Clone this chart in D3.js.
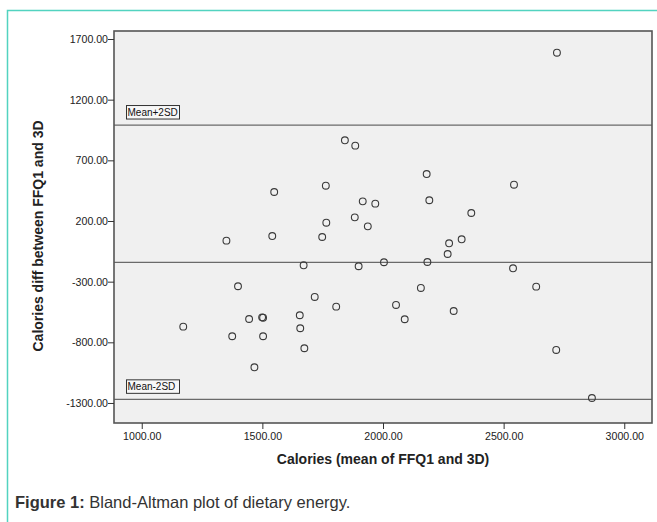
<!DOCTYPE html>
<html>
<head>
<meta charset="utf-8">
<script src="https://cdn.jsdelivr.net/npm/d3@7"></script>
<style>
  body { margin: 0; background: #fff; }
  svg { display: block; font-family: Arial, "Liberation Sans", sans-serif; }
</style>
</head>
<body>
<div id="chart"></div>
<script>
// mean of FFQ1 and 3D (x) and their difference (y)
const meanCal = [1842, 1885, 1549, 1763, 1916, 1968, 1883, 2721, 2181, 2543, 2192, 2366,
  1765, 1937, 1748, 1541, 1351, 1671, 1899, 1399, 1717, 1806, 1445, 1499, 1503, 1655,
  1172, 1375, 1503, 1657, 1674, 1467, 2274, 2326, 2268, 2004, 2184, 2539, 2635, 2157,
  2054, 2090, 2293, 2718, 2866];
const diffCal = [865, 821, 439, 491, 362, 343, 230, 1587, 587, 499, 371, 266,
  186, 156, 68, 76, 38, -165, -173, -338, -426, -506, -608, -594, -597, -577,
  -671, -750, -750, -684, -849, -1006, 16, 49, -72, -140, -138, -190, -341, -352,
  -492, -610, -542, -863, -1259];

const refValues = [991, -141, -1270];
const refLabels = ["Mean+2SD", null, "Mean-2SD"];

const xTicks = [1000, 1500, 2000, 2500, 3000];
const yTicks = [1700, 1200, 700, 200, -300, -800, -1300];

const width = 657, height = 522;
const plot = { left: 114, top: 31, right: 652, bottom: 423 };

const svg = d3.select("#chart").append("svg").attr("width", width).attr("height", height);

// teal figure frame (only left and top visible in the crop)
svg.append("path")
  .attr("d", `M7.5,${height} V10.5 H${width}`)
  .attr("fill", "none")
  .attr("stroke", "#52d3c0")
  .attr("stroke-width", 1.5);

const x = d3.scaleLinear().domain([885, 3115]).range([plot.left, plot.right]);
const y = d3.scaleLinear().domain([-1465, 1766]).range([plot.bottom, plot.top]);

svg.append("rect")
  .attr("x", plot.left).attr("y", plot.top)
  .attr("width", plot.right - plot.left).attr("height", plot.bottom - plot.top)
  .attr("fill", "#f0f0f0");

// reference lines
const g = svg.append("g");
refValues.forEach((v, i) => {
  g.append("line")
    .attr("x1", plot.left).attr("x2", plot.right)
    .attr("y1", y(v)).attr("y2", y(v))
    .attr("stroke", "#6a6a6a").attr("stroke-width", 1.2);
  if (refLabels[i]) {
    const ly = y(v) - 13;
    const lab = g.append("g").attr("transform", `translate(126,${ly})`);
    lab.append("rect").attr("x", 0.5).attr("y", -6.5).attr("width", 53).attr("height", 13.5)
      .attr("fill", "#f7f7f7").attr("stroke", "#333").attr("stroke-width", 1);
    lab.append("text").attr("x", 1.5).attr("y", 4)
      .attr("font-size", 10).attr("fill", "#111").text(refLabels[i]);
  }
});

// points
svg.append("g")
  .selectAll("circle")
  .data(meanCal.map((m, i) => [m, diffCal[i]]))
  .join("circle")
  .attr("cx", d => x(d[0]))
  .attr("cy", d => y(d[1]))
  .attr("r", 3.4)
  .attr("fill", "none")
  .attr("stroke", "#3a3a3a")
  .attr("stroke-width", 1.1);

// plot border
svg.append("rect")
  .attr("x", plot.left).attr("y", plot.top)
  .attr("width", plot.right - plot.left).attr("height", plot.bottom - plot.top)
  .attr("fill", "none").attr("stroke", "#555").attr("stroke-width", 1.6);

// axes
const fmt = d => d.toFixed(2); // plain hyphen, like SPSS output
const yAxis = svg.append("g")
  .attr("transform", `translate(${plot.left},0)`)
  .call(d3.axisLeft(y).tickValues(yTicks).tickSize(6).tickSizeOuter(0).tickFormat(fmt));
const xAxis = svg.append("g")
  .attr("transform", `translate(0,${plot.bottom})`)
  .call(d3.axisBottom(x).tickValues(xTicks).tickSize(6).tickSizeOuter(0).tickFormat(fmt));

[xAxis, yAxis].forEach(a => {
  a.select(".domain").remove();
  a.selectAll(".tick line").attr("stroke", "#333");
  a.selectAll(".tick text").attr("font-size", 10.6).attr("fill", "#222")
    .attr("font-family", "Arial, 'Liberation Sans', sans-serif");
});
yAxis.selectAll(".tick text").attr("x", -6);
xAxis.selectAll(".tick text").attr("y", 9);

// axis titles
svg.append("text")
  .attr("x", (plot.left + plot.right) / 2).attr("y", 464)
  .attr("text-anchor", "middle").attr("font-size", 14).attr("font-weight", "bold")
  .attr("fill", "#222").text("Calories (mean of FFQ1 and 3D)");

svg.append("text")
  .attr("transform", `translate(43,236) rotate(-90)`)
  .attr("text-anchor", "middle").attr("font-size", 14).attr("font-weight", "bold")
  .attr("fill", "#222").text("Calories diff between FFQ1 and 3D");

// caption
const cap = svg.append("text").attr("x", 15).attr("y", 508).attr("font-size", 16.5).attr("fill", "#333");
cap.append("tspan").attr("font-weight", "bold").text("Figure 1:");
cap.append("tspan").text(" Bland-Altman plot of dietary energy.");
</script>
</body>
</html>
